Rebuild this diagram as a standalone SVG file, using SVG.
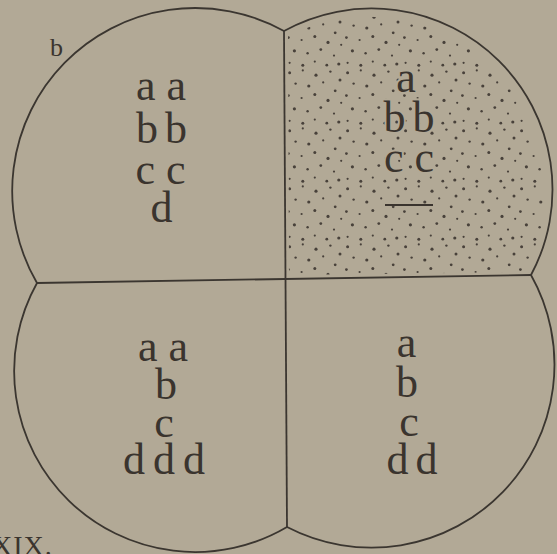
<svg xmlns="http://www.w3.org/2000/svg" width="557" height="554" viewBox="0 0 557 554">
  <style>
    .wall { fill: none; stroke: #3b3630; stroke-width: 1.8; stroke-linejoin: miter; }
    .lbl { font-family: "Liberation Serif", "Times New Roman", serif; font-size: 44px; fill: #3a342e; text-anchor: middle; }
    .halo { stroke: #b2a996; stroke-width: 4px; paint-order: stroke; stroke-linejoin: round; }
    .small { font-family: "Liberation Serif", "Times New Roman", serif; font-size: 26px; fill: #3a342e; }
    .caption { font-family: "Liberation Serif", "Times New Roman", serif; font-size: 28px; fill: #3a342e; letter-spacing: 1px; }
    .dot { fill: #48413a; }
  </style>
  <defs>
    <pattern id="stipple" patternUnits="userSpaceOnUse" x="286" y="10" width="58" height="58">
      <circle class="dot" cx="3.6" cy="4.8" r="1.5"/>
      <circle class="dot" cx="16.8" cy="2.4" r="1.1"/>
      <circle class="dot" cx="30" cy="7.2" r="1.6"/>
      <circle class="dot" cx="44.4" cy="3.6" r="1.2"/>
      <circle class="dot" cx="54" cy="12" r="1.5"/>
      <circle class="dot" cx="9.6" cy="15.6" r="1.2"/>
      <circle class="dot" cx="22.8" cy="18" r="1.6"/>
      <circle class="dot" cx="37.2" cy="14.4" r="1.1"/>
      <circle class="dot" cx="49.2" cy="22.8" r="1.4"/>
      <circle class="dot" cx="2.4" cy="27.6" r="1.4"/>
      <circle class="dot" cx="15.6" cy="30" r="1.1"/>
      <circle class="dot" cx="28.8" cy="26.4" r="1.5"/>
      <circle class="dot" cx="42" cy="32.4" r="1.6"/>
      <circle class="dot" cx="55.2" cy="34.8" r="1.1"/>
      <circle class="dot" cx="8.4" cy="40.8" r="1.6"/>
      <circle class="dot" cx="21.6" cy="43.2" r="1.2"/>
      <circle class="dot" cx="34.8" cy="39.6" r="1.4"/>
      <circle class="dot" cx="48" cy="45.6" r="1.1"/>
      <circle class="dot" cx="3.6" cy="52.8" r="1.1"/>
      <circle class="dot" cx="16.8" cy="55.2" r="1.5"/>
      <circle class="dot" cx="28.8" cy="51.6" r="1.1"/>
      <circle class="dot" cx="40.8" cy="55.2" r="1.4"/>
      <circle class="dot" cx="52.8" cy="54" r="1.6"/>
    </pattern>
    <clipPath id="trClip">
      <path d="M 288,36 A 177 177 0 0 1 527,272 L 289,275 Z"/>
    </clipPath>
  </defs>

  <rect x="0" y="0" width="557" height="554" fill="#b2a996"/>

  <g id="quadrant-top-right">
    <rect x="280" y="0" width="280" height="280" fill="url(#stipple)" clip-path="url(#trClip)"/>
    <text class="lbl halo" x="406" y="92">a</text>
    <text class="lbl halo" x="409" y="132" word-spacing="-4">b b</text>
    <text class="lbl halo" x="409" y="172">c c</text>
    <line x1="385" y1="205" x2="433" y2="205" stroke="#3a342e" stroke-width="2.2"/>
  </g>

  <g id="quadrant-top-left">
    <text class="small" x="50" y="56">b</text>
    <text class="lbl" x="161" y="100">a a</text>
    <text class="lbl" x="161.5" y="143" word-spacing="-4">b b</text>
    <text class="lbl" x="160.5" y="184">c c</text>
    <text class="lbl" x="161.5" y="222">d</text>
  </g>

  <g id="quadrant-bottom-left">
    <text class="lbl" x="163" y="361">a a</text>
    <text class="lbl" x="166" y="399">b</text>
    <text class="lbl" x="164" y="437">c</text>
    <text class="lbl" x="164" y="474" word-spacing="-3">d d d</text>
  </g>

  <g id="quadrant-bottom-right">
    <text class="lbl" x="406.5" y="357">a</text>
    <text class="lbl" x="407" y="397">b</text>
    <text class="lbl" x="409" y="436">c</text>
    <text class="lbl" x="412" y="474" word-spacing="-4">d d</text>
  </g>

  <g id="walls">
    <path class="wall" d="M 37,283 A 183 183 0 0 1 284,31 A 181 181 0 0 1 531,275 A 183 183 0 0 1 287,527 A 181 181 0 0 1 37,283 Z"/>
    <path class="wall" d="M 37,283 L 531,275"/>
    <path class="wall" d="M 284,31 L 287,527"/>
  </g>

  <text class="caption" x="-8" y="555">XIX.</text>
</svg>
